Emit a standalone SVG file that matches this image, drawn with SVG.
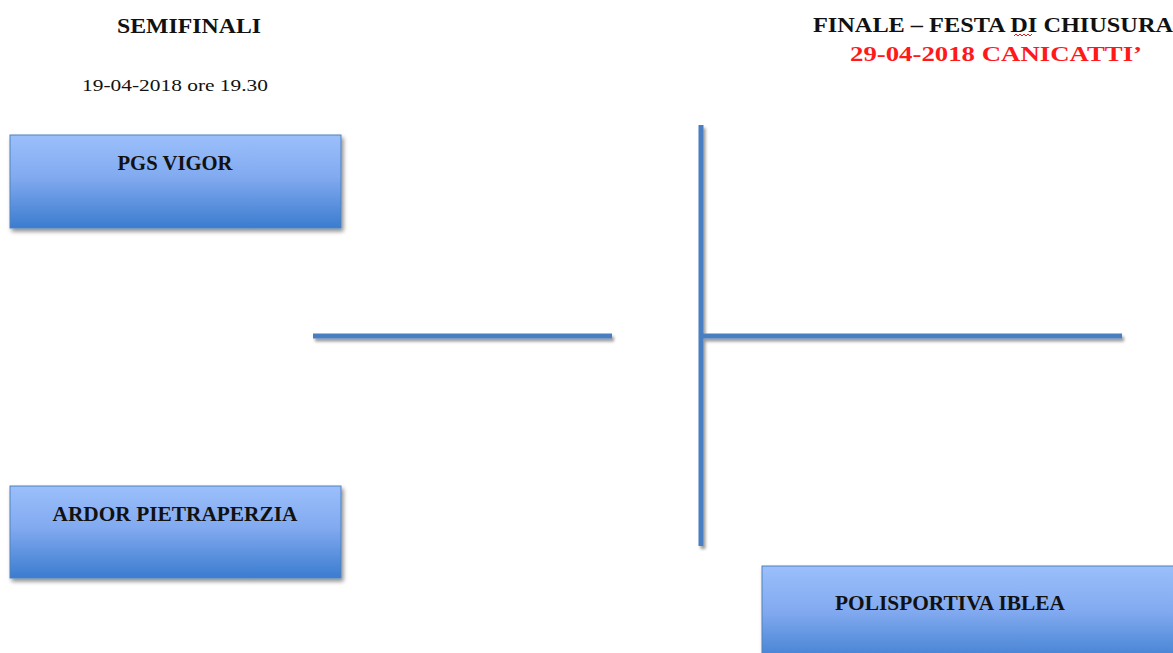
<svg xmlns="http://www.w3.org/2000/svg" width="1173" height="653" viewBox="0 0 1173 653">
<defs>
<linearGradient id="g" x1="0" y1="0" x2="0" y2="1">
<stop offset="0" stop-color="#9bbffb"/>
<stop offset="0.45" stop-color="#82aaf0"/>
<stop offset="1" stop-color="#3b7ccf"/>
</linearGradient>
<filter id="sh" x="-10%" y="-20%" width="130%" height="150%">
<feGaussianBlur in="SourceAlpha" stdDeviation="2"/>
<feOffset dx="2" dy="3" result="b"/>
<feComponentTransfer><feFuncA type="linear" slope="0.45"/></feComponentTransfer>
<feMerge><feMergeNode/><feMergeNode in="SourceGraphic"/></feMerge>
</filter>
<filter id="lsh" filterUnits="userSpaceOnUse" x="0" y="0" width="1173" height="653">
<feGaussianBlur in="SourceAlpha" stdDeviation="1.5"/>
<feOffset dx="2" dy="3" result="b"/>
<feComponentTransfer><feFuncA type="linear" slope="0.4"/></feComponentTransfer>
<feMerge><feMergeNode/><feMergeNode in="SourceGraphic"/></feMerge>
</filter>
</defs>
<style>
.box{fill:url(#g);stroke:#4f81bd;stroke-width:1;filter:url(#sh)}
.lbl{font-family:"Liberation Serif","DejaVu Serif",serif;font-weight:bold;font-size:20px;fill:#111;text-anchor:middle}
.ttl{font-family:"Liberation Serif","DejaVu Serif",serif;font-weight:bold;font-size:21px;fill:#111;text-anchor:middle}
.sub{font-family:"Liberation Serif","DejaVu Serif",serif;font-size:17px;fill:#111;text-anchor:middle}
.ln{stroke:#4a7ec2;stroke-width:5;fill:none}
</style>
<g id="titles">
<text class="ttl" x="189" y="33" textLength="144" lengthAdjust="spacingAndGlyphs">SEMIFINALI</text>
<text class="sub" x="175" y="91" textLength="186" lengthAdjust="spacingAndGlyphs">19-04-2018 ore 19.30</text>
<text class="ttl" x="993" y="32" textLength="360" lengthAdjust="spacingAndGlyphs">FINALE – FESTA DI CHIUSURA</text>
<path d="M1014 36 l2 -2 l2 2 l2 -2 l2 2 l2 -2 l2 2 l2 -2 l2 2 l2 -2" stroke="#e02020" stroke-width="1" fill="none"/>
<text class="ttl" x="996" y="61" style="fill:#ff1a1a" textLength="292" lengthAdjust="spacingAndGlyphs">29-04-2018 CANICATTI’</text>
</g>
<g id="connectors" filter="url(#lsh)">
<line class="ln" x1="313" y1="336" x2="612" y2="336"/>
<line class="ln" x1="701" y1="125" x2="701" y2="546"/>
<line class="ln" x1="701" y1="336" x2="1122" y2="336"/>
</g>
<g id="pgs-vigor">
<rect class="box" x="10" y="135" width="331" height="93"/>
<text class="lbl" x="175" y="170" textLength="115" lengthAdjust="spacingAndGlyphs">PGS VIGOR</text>
</g>
<g id="ardor-pietraperzia">
<rect class="box" x="10" y="486" width="331" height="92"/>
<text class="lbl" x="175" y="521" textLength="245" lengthAdjust="spacingAndGlyphs">ARDOR PIETRAPERZIA</text>
</g>
<g id="polisportiva-iblea">
<rect class="box" x="762" y="566" width="420" height="100"/>
<text class="lbl" x="950" y="610" textLength="230" lengthAdjust="spacingAndGlyphs">POLISPORTIVA IBLEA</text>
</g>
</svg>
